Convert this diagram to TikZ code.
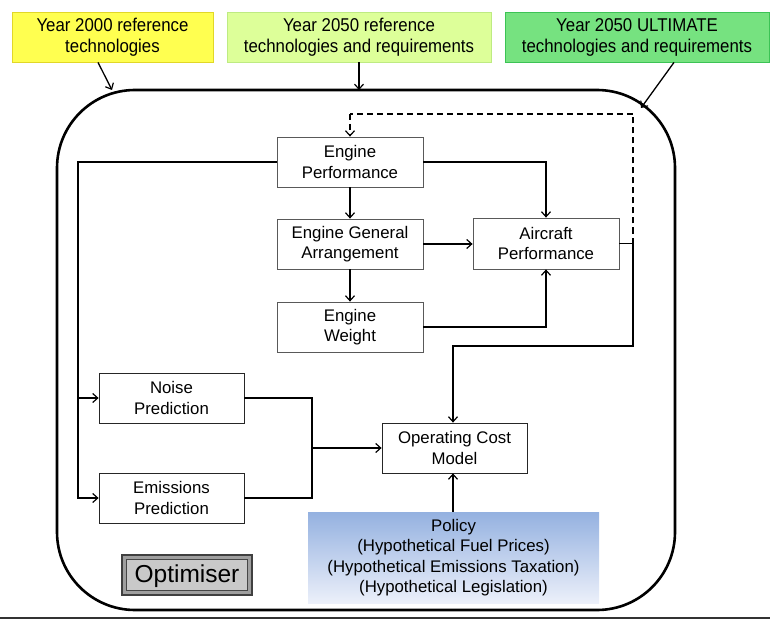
\documentclass[tikz,border=0pt]{standalone}
\usepackage{fontspec}
\setmainfont{Liberation Sans}
\newfontfamily\narrowsans[FakeStretch=0.91]{Liberation Sans}
\usetikzlibrary{arrows.meta,calc}
\definecolor{yfill}{RGB}{255,255,80}
\definecolor{ydraw}{RGB}{225,215,40}
\definecolor{lgfill}{RGB}{221,255,153}
\definecolor{lgdraw}{RGB}{190,235,130}
\definecolor{gfill}{RGB}{118,226,128}
\definecolor{gdraw}{RGB}{60,195,85}
\definecolor{ptop}{RGB}{148,177,224}
\definecolor{pbot}{RGB}{236,240,250}
\tikzset{
  txt/.style={font=\fontsize{16.8}{20.5}\selectfont, align=center, inner sep=0pt},
  toptxt/.style={font=\narrowsans\fontsize{18.5}{21}\selectfont, align=center, inner sep=0pt},
  topbox/.style={toptxt, minimum height=50pt, line width=0.8pt, draw},
  procbox/.style={txt, minimum width=146pt, minimum height=50pt, draw=gray!70!black, fill=white, line width=0.8pt},
  conn/.style={line width=1.3pt, -{Straight Barb[length=5pt,width=9pt,line width=1.2pt]}},
  plain/.style={line width=1.3pt},
}
\begin{document}
\begin{tikzpicture}[x=1pt,y=-1pt]
\useasboundingbox (0,0) rectangle (770,620);
\fill[white] (0,0) rectangle (770,620);
% top boxes
\node[topbox, fill=yfill, draw=ydraw, minimum width=201pt] (yb) at (112.5,37) {Year 2000 reference\\technologies};
\node[topbox, fill=lgfill, draw=lgdraw, minimum width=264pt] (lg) at (359,37) {Year 2050 reference\\technologies and requirements};
\node[topbox, fill=gfill, draw=gdraw, minimum width=264pt] (gb) at (637,37) {Year 2050 ULTIMATE\\technologies and requirements};
% big rounded box
\draw[line width=2.6pt, rounded corners=78pt] (57,90) rectangle (675,610);
\coordinate (bigA) at (112,90);
\coordinate (bigB) at (359,90);
\coordinate (bigC) at (641,108);
\draw[conn] ([xshift=-14.5pt]yb.south) -- (bigA);
\draw[conn] (lg.south) -- (bigB);
\draw[conn] ([xshift=37pt]gb.south) -- (bigC);
% bottom rule
\draw[line width=2pt, black!80] (0,618) -- (770,618);
% process boxes
\node[procbox] (ep) at (350,162) {Engine\\Performance};
\node[procbox] (ega) at (350,244) {Engine General\\Arrangement};
\node[procbox] (ew) at (350,327) {Engine\\Weight};
\node[procbox, minimum height=51pt] (ap) at (546,243.5) {Aircraft\\Performance};
\node[procbox, minimum width=145pt, draw=black!85] (np) at (171.5,398) {Noise\\Prediction};
\node[procbox, minimum width=145pt, draw=black!85] (em) at (171.5,498) {Emissions\\Prediction};
\node[procbox, minimum width=145pt, draw=black!85] (ocm) at (454.5,448) {Operating Cost\\Model};
\node[txt, minimum width=291pt, minimum height=91pt, top color=ptop, bottom color=pbot] (pol) at (453.5,557.5) {Policy\\(Hypothetical Fuel Prices)\\(Hypothetical Emissions Taxation)\\(Hypothetical Legislation)};
% optimiser button
\node[minimum width=130pt, minimum height=40pt, inner sep=0pt, fill=gray!75, draw=gray!50!black, line width=1.8pt] (opt) at (187,575) {};
\draw[fill=gray!42, draw=gray!55!black, line width=0.6pt] ([shift={(5.5pt,5.5pt)}]opt.south west) rectangle ([shift={(-5.5pt,-5.5pt)}]opt.north east);
\node[font=\fontsize{24.5}{28}\selectfont, inner sep=0pt] at ([yshift=-1pt]opt.center) {Optimiser};
% coordinates for connector bends
\coordinate (lx) at (78,162);
\coordinate (rx) at (546,162);
\coordinate (ax) at (633,243.5);
\coordinate (ay) at (633,346);
\coordinate (oy) at (453,346);
\coordinate (dtop) at (633,114);
\coordinate (dleft) at (350,114);
\coordinate (nx) at (312,398);
\coordinate (mid) at (312,448);
% connectors
\draw[conn] (ep.west) -- (lx) |- (np.west);
\draw[conn] (lx) |- (em.west);
\draw[conn] (ep.east) -- (rx) -- (ap.north);
\draw[conn] (ep.south) -- (ega.north);
\draw[conn] (ega.south) -- (ew.north);
\draw[conn] (ega.east) -- (ega.east -| ap.west);
\draw[conn] (ew.east) -| (ap.south);
\draw[conn] (ap.east) -- (ax) -- (ay) -- (oy) -- (oy |- ocm.north);
\draw[line width=1.3pt, dash pattern=on 6pt off 4pt] (ax) -- (dtop) -- (dleft);
\draw[conn, dash pattern=on 6pt off 4pt] (dleft) -- (ep.north);
\draw[plain] (np.east) -- (nx) |- (em.east);
\draw[conn] (mid) -- (ocm.west);
\draw[conn] (pol.north -| oy) -- (oy |- ocm.south);
\end{tikzpicture}
\end{document}
